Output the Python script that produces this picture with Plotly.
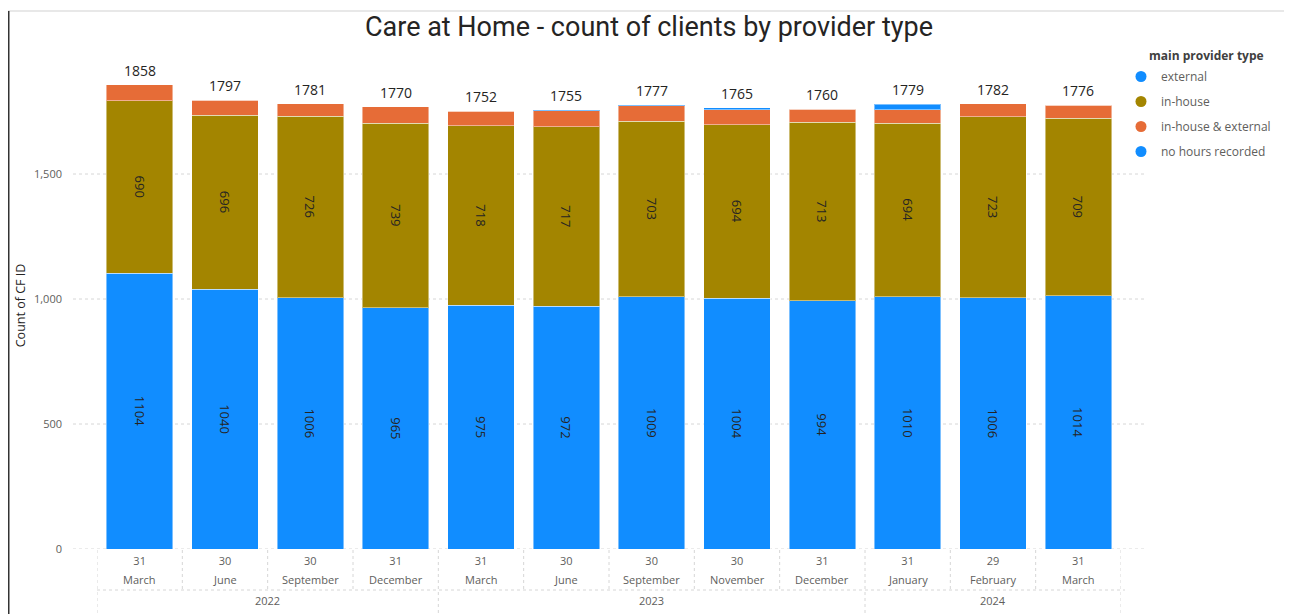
import plotly.graph_objects as go

# ---- data ----
dates = ["2022-03-31", "2022-06-30", "2022-09-30", "2022-12-31",
         "2023-03-31", "2023-06-30", "2023-09-30", "2023-11-30", "2023-12-31",
         "2024-01-31", "2024-02-29", "2024-03-31"]
day_labels = ["31", "30", "30", "31", "31", "30", "30", "30", "31", "31", "29", "31"]
month_labels = ["March", "June", "September", "December", "March", "June",
                "September", "November", "December", "January", "February", "March"]
years = ["2022", "2023", "2024"]
year_counts = [4, 5, 3]

external = [1104, 1040, 1006, 965, 975, 972, 1009, 1004, 994, 1010, 1006, 1014]
in_house = [690, 696, 726, 739, 718, 717, 703, 694, 713, 694, 723, 709]
in_house_external = [63, 59, 49, 66, 59, 65, 61, 59, 53, 53, 53, 53]
no_hours = [1, 2, 0, 0, 0, 1, 4, 8, 0, 22, 0, 0]
totals = [1858, 1797, 1781, 1770, 1752, 1755, 1777, 1765, 1760, 1779, 1782, 1776]

series_names = ["external", "in-house", "in-house & external", "no hours recorded"]
colors = ["#118DFF", "#A38500", "#E66C37", "#118DFF"]

TXT = "#252423"
GREY = "#605E5C"
FONT = "Open Sans"

# page has an 8px body margin: convert page pixels to figure pixels
OFF = 8
W, H = 1292 - OFF, 614 - OFF
PLOT_L, PLOT_R, PLOT_T, PLOT_B = 97, 1121, 62, 549  # page pixels
L = PLOT_L - OFF
R_ = W - (PLOT_R - OFF)
T = PLOT_T - OFF
B = H - (PLOT_B - OFF)
pw = W - L - R_
ph = H - T - B


def px_x(px):
    return (px - PLOT_L) / pw


def px_y(py):
    return (PLOT_B - py) / ph


fig = go.Figure()
vals = [external, in_house, in_house_external, no_hours]
for i, (name, v, c) in enumerate(zip(series_names, vals, colors)):
    labelled = i < 2
    fig.add_trace(go.Bar(
        x=dates, y=v, name=name, marker_color=c,
        marker_line=dict(width=1, color="rgba(255,255,255,0.45)"),
        text=[str(t) for t in v] if labelled else None,
        textposition="inside" if labelled else "none",
        insidetextanchor="middle", textangle=90,
        textfont=dict(family=FONT, size=13, color=TXT),
        constraintext="none",
        showlegend=False, hoverinfo="skip",
    ))

# legend entries with circle markers
for i, (name, c) in enumerate(zip(series_names, colors)):
    fig.add_trace(go.Scatter(
        x=[None], y=[None], mode="markers", name=name,
        marker=dict(color=c, size=11, symbol="circle"),
        legendgroup=f"g{i}", showlegend=True,
    ))

shapes = []
# gridlines (dotted) extending beyond the plot area
for yv in [0, 500, 1000, 1500]:
    shapes.append(dict(type="line", xref="paper", yref="y",
                       x0=px_x(73), x1=px_x(1145), y0=yv, y1=yv,
                       line=dict(color="#D6D6D6", width=1, dash="dot"), layer="below"))

# category separators
n = len(dates)
year_bounds = [-0.5]
acc = -0.5
for cnt in year_counts:
    acc += cnt
    year_bounds.append(acc)
for k in range(n + 1):
    xb = k - 0.5
    is_year = any(abs(xb - yb) < 1e-9 for yb in year_bounds)
    shapes.append(dict(type="line", xref="x", yref="paper",
                       x0=xb, x1=xb, y0=px_y(550), y1=px_y(614 if is_year else 590),
                       line=dict(color="#D6D6D6", width=1, dash="dot")))
shapes.append(dict(type="line", xref="paper", yref="paper",
                   x0=0, x1=px_x(1125), y0=px_y(590), y1=px_y(590),
                   line=dict(color="#D6D6D6", width=1, dash="dot")))

# page border
shapes.append(dict(type="line", xref="paper", yref="paper",
                   x0=px_x(8), x1=px_x(1290), y0=px_y(11), y1=px_y(11),
                   line=dict(color="#E8E8E8", width=2)))
shapes.append(dict(type="line", xref="paper", yref="paper",
                   x0=px_x(8.75), x1=px_x(8.75), y0=px_y(11), y1=px_y(614),
                   line=dict(color="#333333", width=1.5)))
shapes.append(dict(type="line", xref="paper", yref="paper",
                   x0=px_x(1289.5), x1=px_x(1289.5), y0=px_y(11), y1=px_y(614),
                   line=dict(color="#555555", width=1.5)))

annotations = []
for i, m in enumerate(month_labels):
    annotations.append(dict(x=dates[i], y=px_y(579), xref="x", yref="paper",
                            yanchor="middle", text=m, showarrow=False,
                            font=dict(family=FONT, size=11, color=GREY)))
start = 0
for yr, cnt in zip(years, year_counts):
    mid = start + (cnt - 1) / 2
    annotations.append(dict(x=mid, y=px_y(600), xref="x", yref="paper",
                            yanchor="middle", text=yr, showarrow=False,
                            font=dict(family=FONT, size=11, color=GREY)))
    start += cnt
# totals above bars
for d, t in zip(dates, totals):
    annotations.append(dict(x=d, y=t, xref="x", yref="y", yanchor="bottom",
                            yshift=3, text=str(t), showarrow=False,
                            font=dict(family=FONT, size=14, color=TXT)))
# legend title
annotations.append(dict(x=px_x(1147), y=px_y(56), xref="paper", yref="paper",
                        xanchor="left", yanchor="middle", showarrow=False,
                        text="<b>main provider type</b>",
                        font=dict(family=FONT, size=12, color="#404040")))

fig.update_layout(
    width=W, height=H,
    barmode="stack", bargap=0.22,
    margin=dict(l=L, r=R_, t=T, b=B, autoexpand=False),
    paper_bgcolor="white", plot_bgcolor="white",
    title=dict(text="Care at Home - count of clients by provider type",
               x=(649 - OFF) / W, xanchor="center",
               y=1 - (27 - OFF) / H, yanchor="middle",
               font=dict(family="Roboto", size=27, color="#252423")),
    xaxis=dict(type="category", categoryorder="array", categoryarray=dates,
               tickmode="array", tickvals=dates, ticktext=day_labels,
               tickfont=dict(family=FONT, size=11, color=GREY),
               showgrid=False, showline=False, zeroline=False, ticks="",
               ticklabelstandoff=4,
               range=[-0.5, n - 0.5]),
    yaxis=dict(range=[0, 1948], tickvals=[0, 500, 1000, 1500],
               ticktext=["0", "500", "1,000", "1,500"],
               tickfont=dict(family=FONT, size=11, color=GREY),
               showgrid=False, zeroline=False, showline=False, ticks="",
               ticklabelstandoff=34,
               title=dict(text="Count of CF ID", standoff=5,
                          font=dict(family=FONT, size=12.5, color="#252423"))),
    legend=dict(x=px_x(1121), y=px_y(62), xanchor="left", yanchor="top",
                font=dict(family=FONT, size=12, color=GREY),
                tracegroupgap=6, itemwidth=30, bgcolor="rgba(0,0,0,0)"),
    shapes=shapes, annotations=annotations,
)

fig.write_html("out.html")
